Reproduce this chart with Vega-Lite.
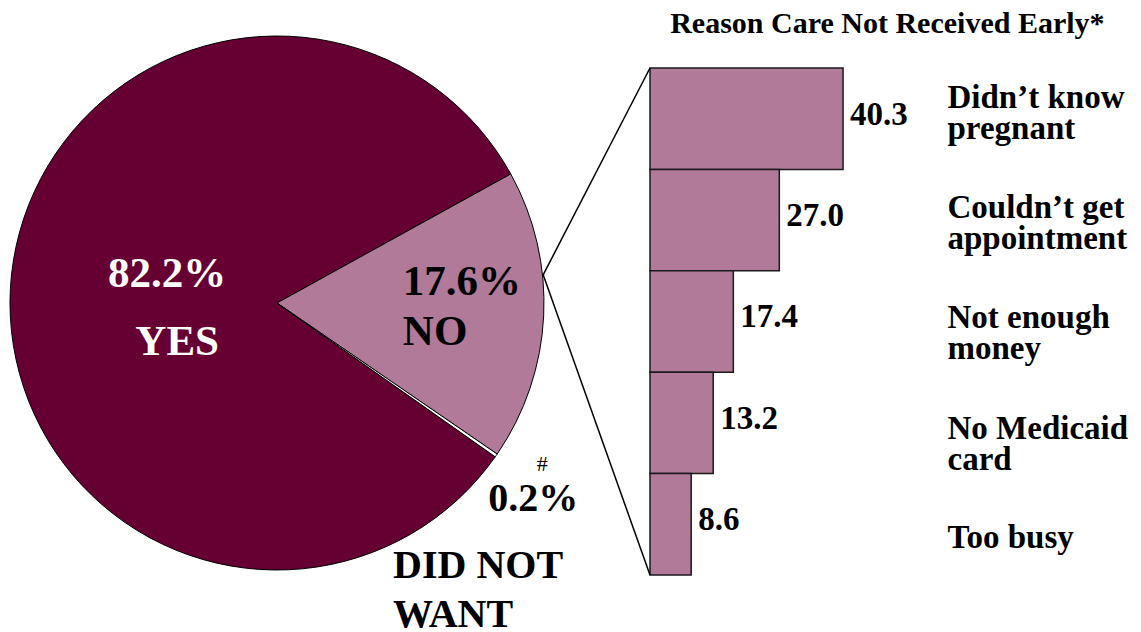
{
  "$schema": "https://vega.github.io/schema/vega-lite/v6.json",
  "padding": {"top": 9, "left": 0, "right": 0, "bottom": 0},
  "title": {"text": "Reason Care Not Received Early*", "anchor": "end", "font": "Liberation Serif", "fontSize": 30, "fontWeight": "bold", "color": "#000000", "offset": -5, "dx": -23},
  "config": {"view": {"stroke": null}, "font": "Liberation Serif"},
  "spacing": 0,
  "bounds": "flush",
  "hconcat": [
    {
      "width": 554,
      "height": 526,
      "data": {"values": [
        {"label": "YES", "pct": 0.822},
        {"label": "NO", "pct": 0.176},
        {"label": "DID NOT WANT", "pct": 0.002}
      ]},
      "transform": [{"calculate": "split(replace(datum.label, /^(\\S+ \\S+) /, '$1|'), '|')", "as": "lines"}],
      "encoding": {
        "theta": {"field": "pct", "type": "quantitative", "stack": true, "scale": {"domain": [0, 1], "range": [2.185, 8.468]}},
        "order": {"field": "label", "type": "nominal", "sort": "descending"}
      },
      "layer": [
        {
          "mark": {"type": "arc", "outerRadius": 267, "stroke": "#000000", "strokeWidth": 1},
          "encoding": {"color": {"field": "label", "type": "nominal", "scale": {"domain": ["YES", "NO", "DID NOT WANT"], "range": ["#660033", "#b07a98", "#ffffff"]}, "legend": null}}
        },
        {
          "mark": {"type": "text", "radius": 110, "dy": -10, "align": "center", "baseline": "alphabetic", "fontSize": 43, "fontWeight": "bold", "font": "Liberation Serif", "fill": "#ffffff"},
          "encoding": {"text": {"condition": {"test": "datum.label === 'YES'", "field": "pct", "type": "quantitative", "format": ".1%"}, "value": ""}}
        },
        {
          "mark": {"type": "text", "radius": 110, "dx": 10, "dy": 58, "align": "center", "baseline": "alphabetic", "fontSize": 43, "fontWeight": "bold", "font": "Liberation Serif", "fill": "#ffffff"},
          "encoding": {"text": {"condition": {"test": "datum.label === 'YES'", "field": "label", "type": "nominal"}, "value": ""}}
        },
        {
          "mark": {"type": "text", "radius": 126, "dy": -14, "align": "left", "baseline": "alphabetic", "fontSize": 43, "fontWeight": "bold", "font": "Liberation Serif", "fill": "#000000"},
          "encoding": {"text": {"condition": {"test": "datum.label === 'NO'", "field": "pct", "type": "quantitative", "format": ".1%"}, "value": ""}}
        },
        {
          "mark": {"type": "text", "radius": 126, "dy": 36, "align": "left", "baseline": "alphabetic", "fontSize": 43, "fontWeight": "bold", "font": "Liberation Serif", "fill": "#000000"},
          "encoding": {"text": {"condition": {"test": "datum.label === 'NO'", "field": "label", "type": "nominal"}, "value": ""}}
        },
        {
          "mark": {"type": "text", "radius": 267, "dx": 37, "dy": 56, "align": "center", "baseline": "alphabetic", "fontSize": 40, "fontWeight": "bold", "font": "Liberation Serif", "fill": "#000000"},
          "encoding": {"text": {"condition": {"test": "datum.label === 'DID NOT WANT'", "field": "pct", "type": "quantitative", "format": ".1%"}, "value": ""}}
        },
        {
          "mark": {"type": "text", "radius": 267, "dx": 46, "dy": 16, "align": "center", "baseline": "alphabetic", "fontSize": 22, "fontWeight": "normal", "font": "Liberation Serif", "fill": "#000000"},
          "encoding": {"text": {"condition": {"test": "datum.label === 'DID NOT WANT'", "value": "#"}, "value": ""}}
        },
        {
          "mark": {"type": "text", "radius": 170, "dx": -23.5, "dy": 178, "align": "left", "baseline": "alphabetic", "fontSize": 40, "lineHeight": 49, "fontWeight": "bold", "font": "Liberation Serif", "fill": "#000000"},
          "encoding": {"text": {"condition": {"test": "datum.label === 'DID NOT WANT'", "field": "lines", "type": "nominal"}, "value": ""}}
        }
      ]
    },
    {
      "width": 389,
      "height": 535,
      "data": {"values": [
        {"reason": "Didn’t know pregnant", "pct": 40.3},
        {"reason": "Couldn’t get appointment", "pct": 27.0},
        {"reason": "Not enough money", "pct": 17.4},
        {"reason": "No Medicaid card", "pct": 13.2},
        {"reason": "Too busy", "pct": 8.6}
      ]},
      "layer": [
        {
          "encoding": {
            "y": {"field": "reason", "type": "nominal", "sort": null,
              "scale": {"paddingInner": 0, "paddingOuter": 0.138, "align": 1},
              "axis": {"orient": "right", "title": null, "domain": false, "ticks": false, "grid": false,
                "labelFont": "Liberation Serif", "labelFontWeight": "bold", "labelFontSize": 33, "labelColor": "#000000",
                "labelPadding": 4, "labelLimit": 400, "labelLineHeight": 31, "labelAlign": "left",
                "labelOffset": {"condition": [
                  {"test": "datum.value === 'Didn’t know pregnant'", "value": -21},
                  {"test": "datum.value === 'Couldn’t get appointment'", "value": -12},
                  {"test": "datum.value === 'Not enough money'", "value": -3},
                  {"test": "datum.value === 'No Medicaid card'", "value": 6}
                ], "value": 14},
                "labelExpr": "split(replace(datum.value, /^(\\S+ \\S+) /, '$1|'), '|')"}},
            "x": {"field": "pct", "type": "quantitative", "scale": {"domain": [-20.04, 61.17], "nice": false, "zero": false}, "axis": null}
          },
          "layer": [
            {
              "mark": {"type": "bar", "fill": "#b07a98", "stroke": "#1a1a1a", "strokeWidth": 1.5},
              "encoding": {"x2": {"datum": 0}}
            },
            {
              "mark": {"type": "text", "align": "left", "baseline": "alphabetic", "dx": 7, "dy": 6, "fontSize": 33, "fontWeight": "bold", "font": "Liberation Serif", "fill": "#000000"},
              "encoding": {"text": {"field": "pct", "type": "quantitative", "format": ".1f"}}
            }
          ]
        },
        {
          "data": {"values": [{}]},
          "encoding": {
            "x": {"datum": -22.3, "type": "quantitative", "scale": {"domain": [-20.04, 61.17], "nice": false, "zero": false}, "axis": null},
            "y": {"datum": 2.04, "type": "quantitative", "scale": {"domain": [-0.276, 5], "reverse": true, "nice": false, "zero": false}, "axis": null}
          },
          "layer": [
            {"mark": {"type": "rule", "stroke": "#000000", "strokeWidth": 1.5}, "encoding": {"x2": {"datum": 0}, "y2": {"datum": 0}}},
            {"mark": {"type": "rule", "stroke": "#000000", "strokeWidth": 1.5}, "encoding": {"x2": {"datum": 0}, "y2": {"datum": 5}}}
          ]
        }
      ],
      "resolve": {"scale": {"y": "independent"}}
    }
  ]
}
